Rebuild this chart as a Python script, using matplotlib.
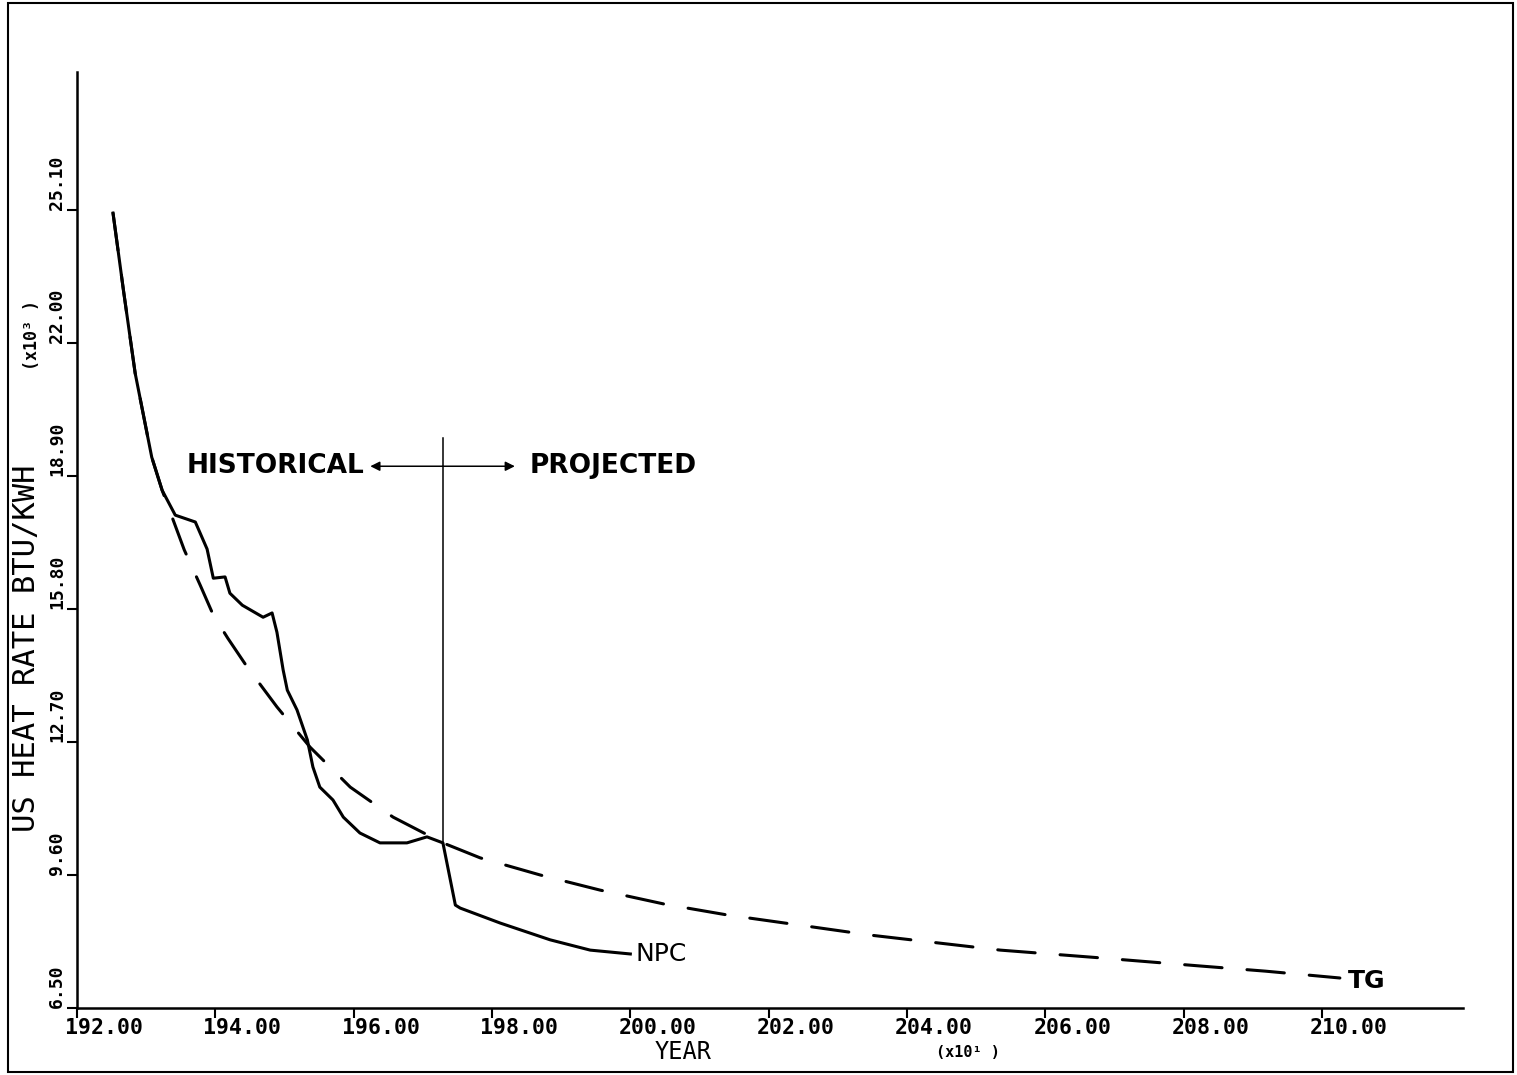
import matplotlib
matplotlib.use("Agg")
from matplotlib import pyplot as plt
from matplotlib.patches import Rectangle
import matplotlib.transforms as mtransforms

# NPC heat rate (solid), years in units of 10 yr, rate in 1000 BTU/KWH
npc_year = [192.52, 192.67, 192.84, 193.08, 193.23, 193.42, 193.71, 193.88,
            193.97, 194.14, 194.21, 194.39, 194.69, 194.82, 194.89, 194.98,
            195.04, 195.18, 195.33, 195.41, 195.51, 195.70, 195.85, 196.09,
            196.38, 196.77, 197.06, 197.29, 197.47, 197.54, 198.12, 198.84,
            199.42, 200.00]
npc_rate = [25.03, 23.24, 21.30, 19.34, 18.57, 17.99, 17.83, 17.20,
            16.52, 16.55, 16.17, 15.89, 15.61, 15.71, 15.26, 14.38,
            13.91, 13.45, 12.75, 12.12, 11.65, 11.35, 10.95, 10.58,
            10.35, 10.35, 10.49, 10.35, 8.90, 8.83, 8.48, 8.09,
            7.85, 7.76]

# TG trend (dashed)
tg_year = [192.52, 192.67, 192.84, 193.08, 193.23, 193.55, 193.78, 193.97,
           194.18, 194.46, 194.89, 195.37, 195.95, 196.57, 197.29, 197.83,
           198.70, 199.56, 200.50, 201.40, 202.46, 203.47, 205.35, 206.79,
           208.24, 209.18, 210.26]
tg_rate = [25.03, 23.24, 21.30, 19.34, 18.57, 17.18, 16.36, 15.66,
           15.12, 14.45, 13.52, 12.58, 11.65, 10.95, 10.35, 10.00,
           9.60, 9.25, 8.92, 8.67, 8.43, 8.20, 7.85, 7.67,
           7.48, 7.36, 7.20]

x_ticks = [192, 194, 196, 198, 200, 202, 204, 206, 208, 210]
y_ticks = [6.5, 9.6, 12.7, 15.8, 18.9, 22.0, 25.1]
split_year = 197.29

plt.rcParams['font.family'] = ['DejaVu Sans Mono']
plt.rcParams['lines.scale_dashes'] = False

fig = plt.figure(figsize=(15.17, 10.75), dpi=100, facecolor='w')
ax = fig.add_axes([0.0508, 0.0623, 0.9136, 0.8707])

ax.plot(npc_year, npc_rate, color='k', lw=2.2, solid_joinstyle='round')
ax.plot(tg_year, tg_rate, color='k', lw=2.2, dashes=(27, 18),
        dash_capstyle='round')

# historical / projected divider
ax.plot([split_year, split_year], [10.35, 19.79], color='k', lw=1.1)
ax.annotate('', xy=(196.24, 19.13), xytext=(split_year, 19.13),
            arrowprops=dict(arrowstyle='-|>', color='k', lw=1.1,
                            mutation_scale=14, shrinkA=0, shrinkB=0))
ax.annotate('', xy=(198.33, 19.13), xytext=(split_year, 19.13),
            arrowprops=dict(arrowstyle='-|>', color='k', lw=1.1,
                            mutation_scale=14, shrinkA=0, shrinkB=0))
ax.text(196.16, 19.13, 'HISTORICAL', family='DejaVu Sans', weight='bold',
        fontsize=19, ha='right', va='center')
ax.text(198.55, 19.13, 'PROJECTED', family='DejaVu Sans', weight='bold',
        fontsize=19, ha='left', va='center')

ax.text(npc_year[-1] + 0.08, npc_rate[-1], 'NPC', family='DejaVu Sans',
        fontsize=18, ha='left', va='center')
ax.text(tg_year[-1] + 0.12, tg_rate[-1] - 0.08, 'TG', family='DejaVu Sans',
        weight='bold', fontsize=18, ha='left', va='center')

ax.set_xlim(192, 212.04)
ax.set_ylim(6.5, 28.32)
for s in ['top', 'right']:
    ax.spines[s].set_visible(False)
for s in ['left', 'bottom']:
    ax.spines[s].set_linewidth(1.8)

# x tick labels start a little left of their tick
ax.set_xticks(x_ticks)
ax.set_xticklabels([])
xlab_tr = mtransforms.blended_transform_factory(ax.transData, ax.transAxes) + \
    mtransforms.ScaledTranslation(-0.12, -0.10, fig.dpi_scale_trans)
for v in x_ticks:
    ax.text(v, 0, '%.2f' % v, transform=xlab_tr, fontsize=15.5,
            weight='bold', ha='left', va='top')

ax.set_yticks(y_ticks)
ax.set_yticklabels(['%.2f' % v for v in y_ticks], fontsize=13,
                   weight='bold', rotation=90, va='bottom', ha='right')
ax.tick_params(axis='both', direction='out', length=7, width=1.5, pad=1)

fig.text(0.450, 0.021, 'YEAR', fontsize=17, ha='center', va='center')
fig.text(0.638, 0.021, '(x10¹ )', fontsize=11, weight='bold',
         ha='center', va='center')
fig.text(0.0175, 0.397, 'US HEAT RATE BTU/KWH', fontsize=22,
         rotation=90, ha='center', va='center')
fig.text(0.021, 0.688, '(x10³ )', fontsize=12, weight='bold',
         rotation=90, ha='center', va='center')

# scanned page border
fig.add_artist(Rectangle((8 / 1517, 3 / 1075), 1505 / 1517, 1069 / 1075,
                         transform=fig.transFigure, fill=False,
                         edgecolor='k', lw=1.5))

plt.savefig('out.png', dpi=100)
